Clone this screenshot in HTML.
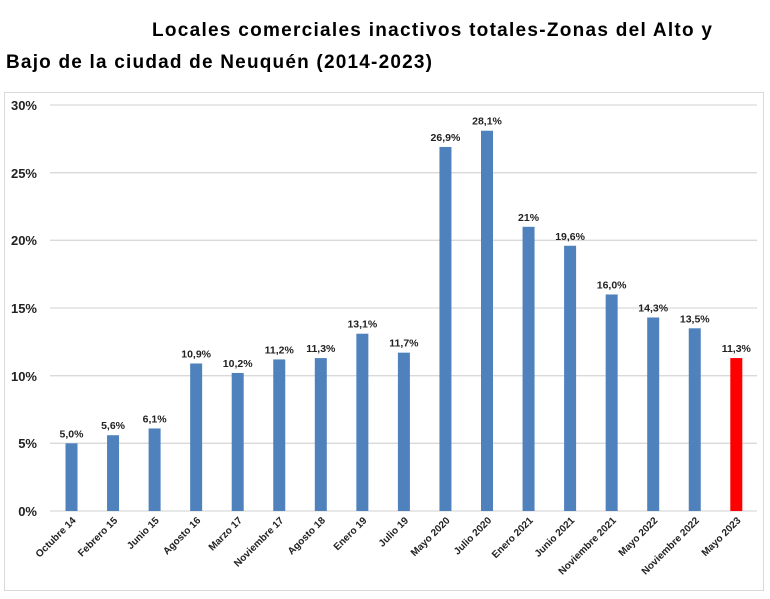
<!DOCTYPE html>
<html><head><meta charset="utf-8"><style>
body{margin:0;background:#fff;width:770px;height:594px;overflow:hidden;font-family:"Liberation Sans",sans-serif}
</style></head><body>
<svg width="770" height="594" xmlns="http://www.w3.org/2000/svg" font-family="Liberation Sans, sans-serif">
<text x="712" y="36" font-size="19" font-weight="bold" text-anchor="end" textLength="560" lengthAdjust="spacing">Locales comerciales inactivos totales-Zonas del Alto y</text>
<text x="6" y="68" font-size="19" font-weight="bold" textLength="426" lengthAdjust="spacing">Bajo de la ciudad de Neuquén (2014-2023)</text>
<rect x="4.5" y="92.5" width="759" height="498" fill="none" stroke="#d9d9d9"/>
<g stroke="#d9d9d9" stroke-width="1.3">
<line x1="50" x2="757" y1="105" y2="105"/><line x1="50" x2="757" y1="172.7" y2="172.7"/>
<line x1="50" x2="757" y1="240.3" y2="240.3"/><line x1="50" x2="757" y1="308" y2="308"/>
<line x1="50" x2="757" y1="375.7" y2="375.7"/><line x1="50" x2="757" y1="443.3" y2="443.3"/>
<line x1="50" x2="757" y1="511" y2="511"/>
</g>
<g font-size="13" font-weight="bold" fill="#222" text-anchor="end">
<text x="37" y="110">30%</text><text x="37" y="178">25%</text><text x="37" y="245">20%</text>
<text x="37" y="313">15%</text><text x="37" y="381">10%</text><text x="37" y="448">5%</text><text x="37" y="516">0%</text>
</g>
<g id="bars"></g>
</svg>
<script>
var d=[["Octubre 14",5.0,"5,0%"],["Febrero 15",5.6,"5,6%"],["Junio 15",6.1,"6,1%"],["Agosto 16",10.9,"10,9%"],["Marzo 17",10.2,"10,2%"],["Noviembre 17",11.2,"11,2%"],["Agosto 18",11.3,"11,3%"],["Enero 19",13.1,"13,1%"],["Julio 19",11.7,"11,7%"],["Mayo 2020",26.9,"26,9%"],["Julio 2020",28.1,"28,1%"],["Enero 2021",21,"21%"],["Junio 2021",19.6,"19,6%"],["Noviembre 2021",16.0,"16,0%"],["Mayo 2022",14.3,"14,3%"],["Noviembre 2022",13.5,"13,5%"],["Mayo 2023",11.3,"11,3%"]];
var g=document.getElementById("bars"),s="";
d.forEach(function(e,i){var c=71.5+41.55*i,h=e[1]*13.533,y=511-h;
s+='<rect x="'+(c-6)+'" y="'+y+'" width="12" height="'+h+'" fill="'+(i==16?'#ff0000':'#4f81bd')+'"/>';
s+='<text x="'+c+'" y="'+(y-6)+'" font-size="10.5" font-weight="bold" text-anchor="middle" fill="#222">'+e[2]+'</text>';
s+='<text transform="translate('+(c+5)+',521) rotate(-45)" font-size="10" font-weight="bold" text-anchor="end" fill="#222">'+e[0]+'</text>';});
g.innerHTML=s;
</script>
</body></html>
